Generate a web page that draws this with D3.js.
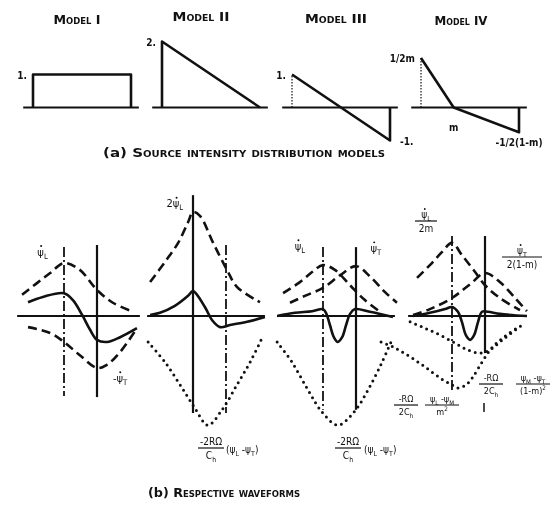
<!DOCTYPE html>
<html><head><meta charset="utf-8">
<script src="https://cdn.jsdelivr.net/npm/d3@7"></script>
<style>
body{margin:0;background:#fff}
svg{display:block;will-change:transform}
text{font-family:"DejaVu Sans Condensed","DejaVu Sans",sans-serif;fill:#111}
</style></head><body>
<script>
// ---- (a) source intensity models: [chord position, intensity] ----
const modelTitles = ["Model I", "Model II", "Model III", "Model IV"];
const modelI   = [[0, 0], [0, 1], [1, 1], [1, 0]];
const modelII  = [[0, 0], [0, 2], [1, 0]];
const modelIII = [[0, 1], [1, -1], [1, 0]];
const modelIV  = [[0, 1.5], [1/3, 0], [1, -0.75], [1, 0]];
const modelIIILead = [[0, 0], [0, 1]];
const modelIVLead  = [[0, 0], [0, 1.5]];
const modelValueLabels = [
  {model: 0, x: 0, y: 1, text: "1.", side: "left"},
  {model: 1, x: 0, y: 2, text: "2.", side: "left"},
  {model: 2, x: 0, y: 1, text: "1.", side: "left"},
  {model: 2, x: 1, y: -1, text: "-1.", side: "right"},
  {model: 3, x: 0, y: 1.5, text: "1/2m", side: "left"},
  {model: 3, x: 1/3, y: -0.6, text: "m", side: "center"},
  {model: 3, x: 1, y: -1.05, text: "-1/2(1-m)", side: "center"}
];

// ---- (b) waveforms: [chord position, amplitude] ----
// Model I
const p1PsiL     = [[-1.27,0.40],[-0.82,0.62],[-0.42,0.81],[0,1.0],[0.48,0.87],[1.0,0.49],[1.48,0.25],[2.09,0.08]];
const p1Response = [[-1.09,0.26],[-0.64,0.36],[0,0.43],[0.27,0.30],[0.55,0.02],[0.79,-0.26],[1.0,-0.45],[1.3,-0.49],[1.7,-0.40],[2.21,-0.23]];
const p1PsiTNeg  = [[-1.09,-0.21],[-0.42,-0.32],[0,-0.49],[0.48,-0.74],[1.0,-0.98],[1.3,-0.92],[1.7,-0.68],[2.21,-0.23]];
// Model II
const p2PsiL2    = [[-1.30,0.64],[-0.85,1.02],[-0.45,1.38],[-0.15,1.77],[0,1.96],[0.21,1.89],[0.61,1.38],[1.03,0.87],[1.33,0.55],[2.03,0.26]];
const p2Response = [[-1.30,0.02],[-1.0,0.06],[-0.55,0.19],[-0.15,0.38],[0,0.47],[0.36,0.17],[0.58,-0.08],[0.82,-0.21],[1.12,-0.17],[1.64,-0.11],[2.18,-0.02]];
const p2Pressure = [[-1.36,-0.49],[-0.85,-0.87],[-0.39,-1.30],[0.06,-1.74],[0.45,-2.06],[0.88,-1.77],[1.33,-1.30],[1.73,-0.87],[2.09,-0.42]];
// Model III
const p3PsiL     = [[-1.21,0.43],[-0.70,0.64],[-0.33,0.83],[0,0.96],[0.36,0.87],[0.82,0.58],[1.27,0.30],[1.73,0.08]];
const p3PsiT     = [[-1.0,0.25],[-0.55,0.38],[0,0.53],[0.52,0.77],[1.0,0.94],[1.42,0.75],[1.88,0.45],[2.24,0.25]];
const p3Response = [[-1.39,0],[-0.85,0.06],[-0.33,0.09],[0,0.13],[0.09,0.06],[0.21,-0.17],[0.33,-0.40],[0.45,-0.49],[0.58,-0.40],[0.70,-0.17],[0.82,0.04],[0.97,0.13],[1.42,0.08],[2.12,-0.02]];
const p3Pressure = [[-1.39,-0.49],[-0.94,-0.87],[-0.45,-1.40],[-0.03,-1.81],[0.45,-2.06],[0.94,-1.81],[1.36,-1.40],[1.79,-0.87],[2.09,-0.45]];
// Model IV
const p4PsiL     = [[-1.06,0.72],[-0.67,0.96],[-0.30,1.21],[0,1.38],[0.30,1.15],[0.70,0.83],[1.0,0.58],[1.45,0.34],[2.06,0.11]];
const p4PsiT     = [[-1.18,0.02],[-0.67,0.13],[0,0.34],[0.55,0.60],[1.0,0.81],[1.45,0.64],[1.91,0.34],[2.27,0.09]];
const p4Response = [[-1.18,0],[-0.67,0.06],[-0.21,0.13],[0,0.17],[0.18,0.08],[0.30,-0.11],[0.42,-0.36],[0.55,-0.45],[0.67,-0.36],[0.79,-0.11],[0.91,0.08],[1.09,0.08],[1.45,0.04],[2.27,0]];
const p4PressureL = [[-2.15,-0.49],[-1.73,-0.60],[-1.27,-0.77],[-0.82,-0.96],[-0.36,-1.17],[0,-1.30],[0.18,-1.36],[0.42,-1.30],[0.61,-1.17],[0.91,-0.87],[1.21,-0.60],[1.61,-0.38],[2.06,-0.19]];
const p4PressureT = [[-1.27,-0.11],[-0.82,-0.23],[-0.36,-0.36],[0.09,-0.51],[0.48,-0.64],[0.85,-0.70],[1.15,-0.64],[1.45,-0.49],[1.76,-0.34],[2.12,-0.17]];

// ---- drawing ----
const W = 557, H = 509;
const svg = d3.select("body").append("svg").attr("width", W).attr("height", H);
svg.append("rect").attr("width", W).attr("height", H).attr("fill", "#fff");

const ink = "#111";
const solid = {stroke: ink, "stroke-width": 2.6, fill: "none", "stroke-linejoin": "round"};
const dashed = {stroke: ink, "stroke-width": 2.6, fill: "none", "stroke-dasharray": "9,5"};
const dotted = {stroke: ink, "stroke-width": 3, fill: "none", "stroke-dasharray": "0,6", "stroke-linecap": "round"};
const thinDot = {stroke: ink, "stroke-width": 1.2, fill: "none", "stroke-dasharray": "1.5,1.5"};
const dashDot = {stroke: ink, "stroke-width": 1.8, fill: "none", "stroke-dasharray": "10,3,2,3"};
function styled(sel, st) { Object.entries(st).forEach(([k, v]) => sel.attr(k, v)); return sel; }

// Text with parts: [string, kind]; kind "n" normal, "sub", "sup", "d" (time derivative: dot above)
function rich(g, x, y, parts, size, anchor) {
  const t = g.append("text").attr("x", x).attr("y", y).attr("font-size", size)
    .attr("text-anchor", anchor || "start").attr("fill", ink);
  let shift = 0;
  const dotted = [];
  parts.forEach(([s, kind]) => {
    const target = kind === "sub" ? 3 : kind === "sup" ? -4 : 0;
    const ts = t.append("tspan").text(s).attr("dy", target - shift).attr("fill", ink);
    if (kind === "sub" || kind === "sup") ts.attr("font-size", size * 0.7);
    if (kind === "d") dotted.push(ts);
    shift = target;
  });
  dotted.forEach(ts => {
    const b = ts.node().getBBox();
    g.append("circle").attr("cx", b.x + b.width / 2 + 0.5).attr("cy", b.y + 0.5)
      .attr("r", size * 0.09).attr("fill", ink);
  });
  return t;
}
const psi = "\u03C8";

function caption(x, y, len, prefix, body) {
  const t = svg.append("text").attr("x", x).attr("y", y).attr("font-size", 12).attr("font-weight", "bold")
    .attr("textLength", len).attr("lengthAdjust", "spacingAndGlyphs");
  t.append("tspan").text(prefix + " ");
  t.append("tspan").style("font-variant", "small-caps").text(body);
}

// (a) models
const chordStart = [33, 162, 292, 421], chordW = 98, baseY = 107.5;
const yTop = d3.scaleLinear().domain([0, 1]).range([baseY, baseY - 33]);
const xModel = chordStart.map(s => d3.scaleLinear().domain([0, 1]).range([s, s + chordW]));
const topLine = d3.line();

const titleX = [77, 201, 336, 461], titleY = [24, 21, 23, 25], titleLen = [47, 57, 62, 53];
modelTitles.forEach((t, i) => {
  svg.append("text").attr("x", titleX[i]).attr("y", titleY[i]).attr("text-anchor", "middle")
    .attr("font-size", 12).attr("font-weight", "bold").style("font-variant", "small-caps")
    .attr("textLength", titleLen[i]).attr("lengthAdjust", "spacingAndGlyphs").text(t);
});

[modelI, modelII, modelIII, modelIV].forEach((m, i) => {
  const xs = xModel[i];
  styled(svg.append("line"), {stroke: ink, "stroke-width": 2.2})
    .attr("x1", xs(-0.1)).attr("x2", xs(1.08)).attr("y1", yTop(0)).attr("y2", yTop(0));
  styled(svg.append("path"), solid).attr("d", topLine(m.map(d => [xs(d[0]), yTop(d[1])])));
});
[[modelIIILead, 2], [modelIVLead, 3]].forEach(([m, i]) => {
  styled(svg.append("path"), thinDot).attr("d", topLine(m.map(d => [xModel[i](d[0]), yTop(d[1])])));
});
modelValueLabels.forEach(l => {
  const x = xModel[l.model](l.x), y = yTop(l.y);
  const dx = l.side === "left" ? -6 : l.side === "right" ? 10 : 0;
  svg.append("text").attr("x", x + dx).attr("y", y + 4).attr("font-size", 10).attr("font-weight", "bold")
    .attr("text-anchor", l.side === "left" ? "end" : l.side === "right" ? "start" : "middle").text(l.text);
});

caption(103, 157, 282, "(a)", "Source intensity distribution models");

// (b) waveforms
const axisY = 316, unitX = 33, unitY = 53;
const yW = d3.scaleLinear().domain([0, 1]).range([axisY, axisY - unitY]);
const leads = [64, 193, 323, 452];
const xW = leads.map(l => d3.scaleLinear().domain([0, 1]).range([l, l + unitX]));
const curve = d3.line().curve(d3.curveCatmullRom.alpha(0.5));

const panels = [
  {axis: [-1.42, 2.3], lead: ["dd", 1.30, -1.51], trail: ["s", 1.34, -1.53],
   series: [[p1PsiL, dashed], [p1PsiTNeg, dashed], [p1Response, solid]]},
  {axis: [-1.39, 2.18], lead: ["s", 2.28, -1.83], trail: ["dd", 1.34, -1.83],
   series: [[p2PsiL2, dashed], [p2Pressure, dotted], [p2Response, solid]]},
  {axis: [-1.39, 2.18], lead: ["dd", 1.30, -1.77], trail: ["s", 1.30, -1.77],
   series: [[p3PsiL, dashed], [p3PsiT, dashed], [p3Pressure, dotted], [p3Response, solid]]},
  {axis: [-1.33, 2.27], lead: ["dd", 1.51, -1.43], trail: ["s", 1.51, -0.70],
   series: [[p4PsiL, dashed], [p4PsiT, dashed], [p4PressureL, dotted], [p4PressureT, dotted], [p4Response, solid]]}
];

panels.forEach((p, i) => {
  const xs = xW[i];
  const g = svg.append("g");
  styled(g.append("line"), {stroke: ink, "stroke-width": 2})
    .attr("x1", xs(p.axis[0])).attr("x2", xs(p.axis[1])).attr("y1", yW(0)).attr("y2", yW(0));
  [[p.lead, 0], [p.trail, 1]].forEach(([v, c]) => {
    styled(g.append("line"), v[0] === "s" ? {stroke: ink, "stroke-width": 2.2} : dashDot)
      .attr("x1", xs(c)).attr("x2", xs(c)).attr("y1", yW(v[1])).attr("y2", yW(v[2]));
  });
  p.series.forEach(([data, st]) => {
    styled(g.append("path"), st).attr("d", curve(data.map(d => [xs(d[0]), yW(d[1])])));
  });
});

// waveform labels
const fs = 11;
rich(svg, xW[0](-0.65), yW(1.14), [[psi, "d"], ["L", "sub"]], fs, "middle");
rich(svg, xW[0](1.7), yW(-1.24), [["-", "n"], [psi, "d"], ["T", "sub"]], fs, "middle");
rich(svg, xW[1](-0.55), yW(2.05), [["2", "n"], [psi, "d"], ["L", "sub"]], fs, "middle");
rich(svg, xW[2](-0.7), yW(1.25), [[psi, "d"], ["L", "sub"]], fs, "middle");
rich(svg, xW[2](1.6), yW(1.21), [[psi, "d"], ["T", "sub"]], fs, "middle");

function fraction(cx, cy, num, den, w, size) {
  size = size || 10;
  rich(svg, cx, cy - 3.5, num, size, "middle");
  svg.append("line").attr("x1", cx - w / 2).attr("x2", cx + w / 2).attr("y1", cy).attr("y2", cy)
    .attr("stroke", ink).attr("stroke-width", 1.2);
  rich(svg, cx, cy + size + 1, den, size, "middle");
}
// Model IV ψ labels
fraction(426, 221, [[psi, "d"], ["L", "sub"]], [["2m", "n"]], 22);
fraction(522, 257, [[psi, "d"], ["T", "sub"]], [["2(1-m)", "n"]], 40);

// pressure labels, Models II and III
[[211, 226], [348, 364]].forEach(([cx, tx]) => {
  fraction(cx, 448, [["-2R\u03A9", "n"]], [["C", "n"], ["h", "sub"]], 26);
  rich(svg, tx, 453, [["(" + psi, "n"], ["L", "sub"], [" -" + psi, "n"], ["T", "sub"], [")", "n"]], 10, "start");
});
// pressure labels, Model IV
fraction(406, 405, [["-R\u03A9", "n"]], [["2C", "n"], ["h", "sub"]], 24, 9);
fraction(442, 405, [[psi, "n"], ["L", "sub"], [" -" + psi, "n"], ["M", "sub"]], [["m", "n"], ["2", "sup"]], 34, 9);
fraction(491, 384, [["-R\u03A9", "n"]], [["2C", "n"], ["h", "sub"]], 24, 9);
fraction(533, 384, [[psi, "n"], ["M", "sub"], [" -" + psi, "n"], ["T", "sub"]], [["(1-m)", "n"], ["2", "sup"]], 34, 9);
svg.append("line").attr("x1", 484).attr("x2", 484).attr("y1", 403).attr("y2", 412)
  .attr("stroke", ink).attr("stroke-width", 1.5);

caption(148, 497, 152, "(b)", "Respective waveforms");
</script>
</body></html>
